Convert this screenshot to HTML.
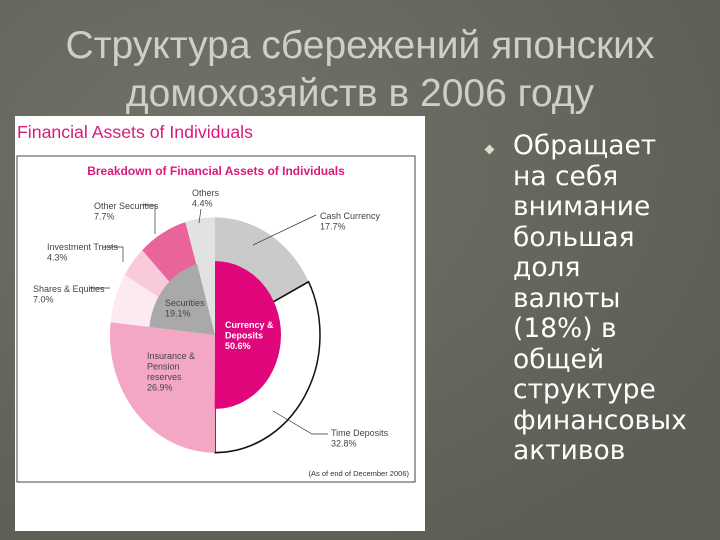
<!DOCTYPE html>
<html><head><meta charset="utf-8"><style>
body{margin:0;width:720px;height:540px;overflow:hidden;background:radial-gradient(ellipse at 30% 30%,#727268,#5e5e55 80%);font-family:"Liberation Sans",sans-serif;position:relative}
.t{position:absolute;left:0;width:720px;text-align:center;color:#cfcfc8;font-size:39px}
#txt{position:absolute;left:513px;top:131px;color:#fff;font-family:"DejaVu Sans",sans-serif;font-size:26.5px;line-height:30.5px}
#bul{position:absolute;left:486px;top:146px;width:7px;height:7px;background:#d8dcc8;transform:rotate(45deg)}
</style></head><body>
<div class="t" style="top:24px">Структура сбережений японских</div>
<div class="t" style="top:72px">домохозяйств в 2006 году</div>
<div id="bul"></div>
<div id="txt">Обращает<br>на себя<br>внимание<br>большая<br>доля<br>валюты<br>(18%) в<br>общей<br>структуре<br>финансовых<br>активов</div>
<svg id="chart" style="position:absolute;left:15px;top:116px" width="410" height="415" font-family="Liberation Sans, sans-serif">
<rect width="410" height="415" fill="#fff"/>
<text x="2" y="22" font-size="17.7" fill="#d81b7a">Financial Assets of Individuals</text>
<rect x="2" y="40" width="398" height="326" fill="none" stroke="#444" stroke-width="1"/>
<text x="201" y="59" font-size="12" font-weight="bold" fill="#d81b7a" text-anchor="middle">Breakdown of Financial Assets of Individuals</text>
<g id="pie" transform="translate(200,219) scale(1,1.12)"></g>
<g id="lbl" font-size="9" fill="#444"></g>
<text x="394" y="360" font-size="7.5" fill="#333" text-anchor="end">(As of end of December 2006)</text>
</svg>
<script>
const innerCats=["Currency & Deposits","Insurance & Pension reserves","Securities","Others"];
const innerVals=[50.6,26.9,19.1,4.4];
const outerCats=["Cash Currency","Time Deposits","Insurance & Pension reserves","Shares & Equities","Investment Trusts","Other Securities","Others"];
const outerVals=[17.7,32.8,26.9,7.0,4.3,7.7,4.4];
const innerColors=["#e0077d","#f4a7c4","#a9a9a9","#e2e2e2"];
const outerColors=["#cacaca","#ffffff","#f4a7c4","#fde9f1","#f9cadb","#e8649a","#e2e2e2"];
const NS="http://www.w3.org/2000/svg";
const pie=document.getElementById('pie');
const R=105,r=66;
function pt(a,rad){return [rad*Math.sin(a),-rad*Math.cos(a)];}
function arc(a0,a1,r0,r1){
 const lg=(a1-a0)>Math.PI?1:0;const p0=pt(a0,r1),p1=pt(a1,r1);
 if(r0===0)return `M0,0L${p0}A${r1},${r1} 0 ${lg} 1 ${p1}Z`;
 const q0=pt(a1,r0),q1=pt(a0,r0);
 return `M${p0}A${r1},${r1} 0 ${lg} 1 ${p1}L${q0}A${r0},${r0} 0 ${lg} 0 ${q1}Z`;}
const tot=innerVals.reduce((a,b)=>a+b,0);
const ang=v=>v/tot*2*Math.PI;
let a=0;
outerVals.forEach((v,i)=>{const a1=a+ang(v);const p=document.createElementNS(NS,'path');
p.setAttribute('d',arc(a,a1,0,R));p.setAttribute('fill',outerColors[i]);
if(i===1){p.setAttribute('stroke','#111');p.setAttribute('stroke-width','1.5');}


pie.appendChild(p);a=a1;});
a=0;
innerVals.forEach((v,i)=>{const a1=a+ang(v);const p=document.createElementNS(NS,'path');
const rr=(i===1||i===3)?R:r;
p.setAttribute('d',arc(a,a1,0,rr));p.setAttribute('fill',innerColors[i]);


pie.appendChild(p);a=a1;});
const lbl=document.getElementById('lbl');
function txt(x,y,lines,opt){lines.forEach((s,k)=>{const t=document.createElementNS(NS,'text');t.setAttribute('x',x);t.setAttribute('y',y+k*10.5);t.textContent=s;
if(opt&&opt.c)t.setAttribute('fill',opt.c);if(opt&&opt.b)t.setAttribute('font-weight','bold');


lbl.appendChild(t);});}
function line(d){const p=document.createElementNS(NS,'path');p.setAttribute('d',d);p.setAttribute('stroke','#333');p.setAttribute('fill','none');p.setAttribute('stroke-width','0.7');


lbl.appendChild(p);}
txt(305,103,["Cash Currency",outerVals[0].toFixed(1)+"%"]);line("M301,99L238,129");
txt(316,320,["Time Deposits",outerVals[1].toFixed(1)+"%"]);line("M313,318L297,318L258,295");
txt(177,80,["Others",outerVals[6].toFixed(1)+"%"]);line("M186,93L184,107");
txt(79,93,["Other Securities",outerVals[5].toFixed(1)+"%"]);line("M127,89L140,89L140,118");
txt(32,134,["Investment Trusts",outerVals[4].toFixed(1)+"%"]);line("M88,131L108,131L108,146");
txt(18,176,["Shares & Equities",outerVals[3].toFixed(1)+"%"]);line("M74,172L95,172");
txt(150,190,["Securities",innerVals[2].toFixed(1)+"%"]);
txt(132,243,["Insurance &","Pension","reserves",innerVals[1].toFixed(1)+"%"]);
txt(210,212,["Currency &","Deposits",innerVals[0].toFixed(1)+"%"],{c:"#fff",b:1});
</script>
</body></html>
